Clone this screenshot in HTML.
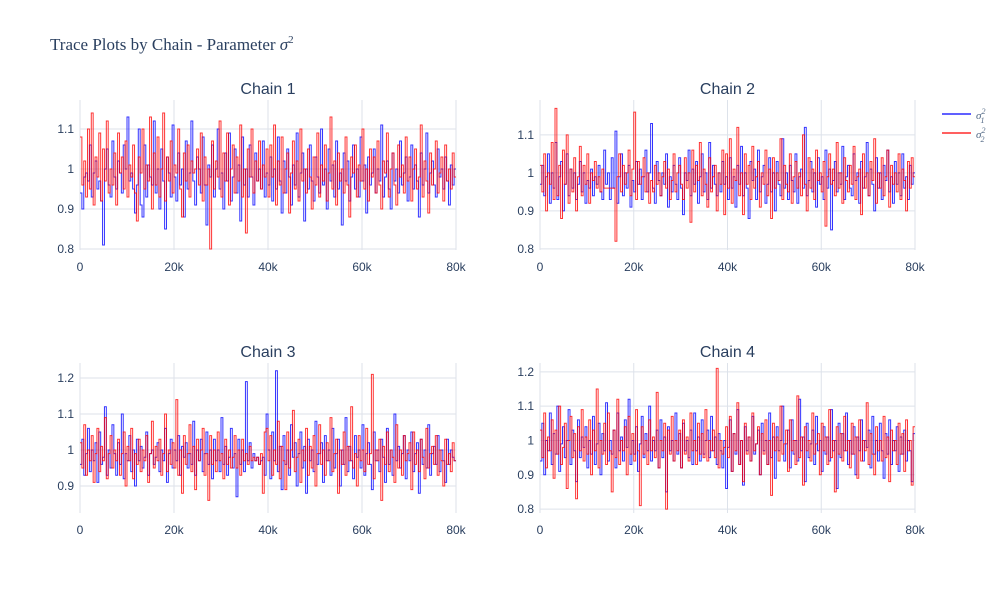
<!DOCTYPE html>
<html><head><meta charset="utf-8"><style>
body{margin:0;background:#fff;}
svg{display:block;font-family:"Liberation Sans",sans-serif;}
</style></head><body>
<svg id="chart" width="1000" height="600">
<text x="50" y="50" font-family="Liberation Serif,serif" font-size="17" fill="#2a3f5f">Trace Plots by Chain - Parameter <tspan font-style="italic">σ</tspan><tspan font-size="11" dy="-7">2</tspan></text>
<g>
<g><line x1="942" y1="114" x2="971" y2="114" stroke="#0000ff" stroke-width="1.2"/><text x="976" y="119" font-family="Liberation Serif,serif" font-style="italic" font-size="11" fill="#506784">σ<tspan font-size="8" dy="-5">2</tspan><tspan font-size="8" dx="-5" dy="9">1</tspan></text></g>
<g><line x1="942" y1="133" x2="971" y2="133" stroke="#ff0000" stroke-width="1.2"/><text x="976" y="138" font-family="Liberation Serif,serif" font-style="italic" font-size="11" fill="#506784">σ<tspan font-size="8" dy="-5">2</tspan><tspan font-size="8" dx="-5" dy="9">2</tspan></text></g>
</g>
</svg>
<script>
const xTicks=[0,20000,40000,60000,80000];
const xTickLabels=["0","20k","40k","60k","80k"];
const chainTitles=["Chain 1","Chain 2","Chain 3","Chain 4"];
const yTicks1=[0.8,0.9,1,1.1];
const yTicks2=[0.8,0.9,1,1.1];
const yTicks3=[0.9,1,1.1,1.2];
const yTicks4=[0.8,0.9,1,1.1,1.2];
const iterStep=400;
const c1s1=[0.94,0.90,0.98,0.99,0.97,1.06,0.93,0.99,1.02,0.95,0.97,0.92,0.81,1.00,1.05,0.96,0.93,1.07,0.98,0.95,1.02,0.99,0.94,1.06,1.00,1.13,0.97,0.99,0.95,0.89,0.96,1.10,0.91,0.88,1.06,0.93,1.01,0.98,0.96,1.12,0.94,1.00,0.90,1.05,0.97,0.85,1.03,0.99,0.93,1.11,0.98,0.92,1.04,0.96,1.00,0.88,1.07,0.95,0.99,1.12,0.97,0.91,1.03,1.00,0.94,1.08,0.96,0.86,1.01,0.98,1.06,0.93,1.00,1.10,0.95,0.99,0.90,1.04,0.97,1.09,0.92,0.98,1.05,0.94,1.01,0.87,1.08,0.96,1.00,0.93,1.06,0.98,0.91,1.04,0.97,1.00,0.95,1.07,0.93,0.99,
0.96,1.03,0.92,1.00,0.95,1.08,0.97,0.89,1.02,0.94,1.05,0.98,0.91,1.01,0.96,1.09,0.93,0.99,1.04,0.87,1.00,0.95,1.06,0.97,0.92,1.03,0.98,0.94,1.10,0.96,1.00,0.90,1.05,0.97,1.01,0.93,1.07,0.95,0.99,0.86,1.04,0.97,1.02,0.92,0.98,1.06,0.95,1.00,0.93,1.08,0.97,1.01,0.89,1.03,0.96,0.99,1.05,0.94,1.00,0.97,1.11,0.93,0.98,1.02,0.95,0.90,1.04,0.97,1.00,0.94,1.07,0.96,0.99,1.03,0.92,0.98,1.06,0.95,1.01,0.97,0.88,1.04,0.96,1.00,1.09,0.94,0.99,1.02,0.96,0.93,1.05,0.98,1.00,0.95,1.03,0.97,0.91,1.01,0.96,1.00];
const c1s2=[1.08,0.96,1.02,0.93,1.10,0.95,1.14,0.91,1.03,0.98,1.09,0.92,1.05,0.97,1.12,0.94,1.00,0.96,1.04,0.91,1.09,0.99,1.03,0.95,1.07,0.93,1.01,0.98,1.06,0.94,0.87,1.03,0.99,1.10,0.95,1.01,0.97,1.13,0.90,1.04,0.96,1.08,0.93,1.00,1.14,0.92,1.03,0.97,1.07,0.94,1.01,0.99,1.10,0.95,0.88,1.04,0.97,1.06,0.93,1.02,0.99,1.00,1.05,0.96,1.09,0.92,1.03,0.96,1.00,0.80,1.07,0.95,1.02,0.98,1.12,0.93,1.04,0.97,1.09,0.91,1.00,1.06,0.94,1.03,0.97,1.11,0.93,1.00,0.84,1.05,0.98,1.10,0.94,1.02,0.97,1.07,0.95,1.01,0.98,1.05,
0.93,1.06,0.98,1.11,0.91,1.02,0.96,1.08,0.94,1.00,1.04,0.89,0.99,1.07,0.95,1.02,0.92,1.10,0.97,1.00,0.94,1.05,0.98,0.90,1.03,0.96,1.09,0.93,1.01,0.97,1.06,0.92,0.99,1.13,0.95,1.02,0.91,1.04,0.97,1.00,0.94,1.08,0.96,0.88,1.03,0.99,1.06,0.93,1.01,0.97,1.10,0.95,1.00,0.92,1.05,0.98,1.03,0.94,1.07,0.96,0.90,1.02,0.99,1.09,0.93,1.00,1.04,0.96,0.91,1.06,0.98,1.01,0.94,1.08,0.97,1.03,0.92,1.00,1.05,0.95,0.98,1.11,0.93,1.02,0.97,0.89,1.04,0.96,1.00,1.07,0.94,0.99,1.03,0.92,1.06,0.97,1.00,0.95,1.04,0.98];
const c2s1=[0.97,1.02,0.94,0.99,1.05,0.92,1.00,0.96,1.08,0.93,0.99,1.03,0.90,0.97,1.05,0.94,1.01,0.96,1.00,0.93,0.97,1.03,0.95,1.00,0.92,0.98,0.96,1.01,0.94,0.99,0.97,1.02,0.95,0.93,1.06,0.97,1.00,0.93,1.04,0.96,1.11,0.92,0.99,1.05,0.94,1.00,0.96,1.02,0.91,0.98,0.95,1.03,0.97,1.01,0.93,0.99,1.06,0.95,1.00,1.13,0.96,0.92,1.03,0.98,0.94,1.00,0.97,1.05,0.91,0.99,0.95,1.02,0.97,0.93,1.04,0.96,0.89,1.00,0.98,1.06,0.94,1.01,0.97,1.03,0.92,0.99,1.05,0.95,1.00,0.93,1.08,0.96,1.02,0.97,0.94,1.00,0.95,1.03,0.97,0.99,
0.93,1.04,0.96,0.99,0.91,1.02,0.97,1.07,0.94,1.00,0.96,0.88,1.03,0.98,1.01,0.93,1.06,0.95,0.99,1.02,0.92,0.97,1.04,0.95,1.00,0.90,1.03,0.97,0.94,1.09,0.96,1.00,0.93,1.02,0.98,0.95,1.05,0.92,0.99,1.01,0.96,1.12,0.94,0.98,1.03,0.95,1.00,0.91,1.04,0.97,0.99,0.93,1.06,0.96,1.01,0.85,0.98,1.03,0.95,1.00,0.97,1.07,0.93,0.99,1.02,0.96,0.94,1.05,0.98,1.00,0.92,1.03,0.96,0.99,1.08,0.94,1.01,0.97,0.90,1.04,0.96,1.00,0.93,1.02,0.98,1.06,0.95,0.99,0.92,1.03,0.97,1.00,0.94,1.05,0.96,0.99,0.93,1.02,0.97,1.00];
const c2s2=[1.02,0.95,1.05,0.90,1.00,0.97,1.08,0.93,1.17,0.94,1.02,0.88,1.06,0.97,1.10,0.92,1.01,0.95,1.04,0.90,0.99,1.07,0.94,1.02,0.97,1.05,0.92,1.00,0.98,1.03,0.96,0.99,0.95,1.01,0.96,0.96,0.96,0.96,0.96,0.96,0.82,0.99,1.05,0.95,1.02,0.97,1.00,1.06,0.94,1.01,1.16,0.93,1.03,0.97,0.99,1.04,0.95,1.00,0.92,0.98,0.95,1.02,0.97,1.00,0.94,0.99,1.03,0.96,1.01,0.93,0.98,1.05,0.95,1.00,1.02,0.97,0.93,1.04,0.96,1.00,0.87,1.06,0.95,1.02,0.98,1.08,0.94,1.01,0.97,0.91,1.04,0.95,0.99,1.02,0.90,1.00,0.97,1.06,0.89,1.05,
0.96,1.09,0.92,1.01,0.98,1.12,0.94,1.00,0.89,1.05,0.97,1.02,0.93,1.07,0.96,0.99,1.03,0.91,1.00,0.97,1.06,0.94,1.01,0.88,1.04,0.96,1.00,0.98,1.09,0.93,1.02,0.97,0.95,1.05,0.92,0.99,1.03,0.96,1.00,0.94,1.10,0.97,0.90,1.04,0.96,1.01,0.93,1.06,0.98,1.00,0.95,1.03,0.86,0.99,1.05,0.97,1.01,0.94,1.08,0.96,1.00,0.92,1.04,0.98,0.95,1.02,0.97,1.07,0.93,0.99,1.01,0.89,1.05,0.96,1.00,0.94,1.03,0.98,1.09,0.92,1.00,0.96,1.04,0.94,0.99,1.06,0.91,1.02,0.97,1.00,0.95,1.05,0.93,1.01,0.98,0.90,1.03,0.96,1.04,0.99];
const c3s1=[0.96,1.03,0.93,0.99,1.06,0.94,1.00,0.97,1.02,0.91,1.05,0.96,0.98,1.12,0.93,1.00,0.95,1.07,0.99,0.93,1.02,0.96,1.10,0.92,0.99,0.97,1.04,0.94,1.00,0.90,1.03,0.97,1.01,0.95,0.98,1.05,0.93,0.99,1.00,0.96,0.98,1.02,0.94,1.00,0.97,1.06,0.91,0.99,1.03,0.95,1.00,0.97,1.04,0.93,1.01,0.98,1.02,0.95,0.99,0.96,1.08,0.93,1.00,0.97,1.03,0.94,0.99,1.05,0.96,1.00,0.92,1.03,0.97,1.00,0.94,1.09,0.96,1.01,0.93,0.98,1.06,0.95,0.99,0.87,1.03,0.96,1.00,0.94,1.19,0.97,1.02,0.95,0.99,0.97,0.98,0.96,0.97,0.98,0.93,1.10,
1.00,0.92,1.05,0.97,1.22,0.94,1.01,0.89,1.04,0.96,1.00,0.93,1.07,0.98,1.02,0.90,0.99,1.05,0.95,1.01,0.88,1.03,0.97,1.00,0.94,1.08,0.96,0.99,1.02,0.91,1.04,0.97,1.00,0.93,1.06,0.95,0.99,1.03,0.90,1.00,0.96,1.09,0.94,1.01,0.97,0.92,1.04,0.98,1.00,0.95,1.07,0.93,0.99,1.02,0.96,0.89,1.05,0.97,1.00,0.94,1.03,0.98,0.91,1.06,0.96,1.00,0.93,1.10,0.97,1.01,0.95,0.99,1.04,0.92,1.00,0.97,1.05,0.94,0.99,1.02,0.88,1.03,0.96,1.00,0.95,1.07,0.93,0.99,1.01,0.96,1.04,0.94,1.00,0.97,0.91,1.03,0.96,1.00,0.98,0.97];
const c3s2=[1.02,0.95,1.07,0.93,1.00,0.97,1.04,0.91,0.99,1.06,0.94,1.01,0.97,1.09,0.92,0.99,1.04,0.95,1.00,0.97,1.03,0.93,0.99,1.05,0.90,1.01,0.97,1.06,0.92,0.99,0.96,1.03,0.94,1.00,0.97,1.04,0.91,0.99,1.08,0.95,1.01,0.97,1.03,0.93,0.99,1.10,0.94,1.00,0.96,1.02,0.95,1.14,0.93,1.00,0.88,1.04,0.96,0.99,1.07,0.94,1.01,0.89,1.03,0.97,1.00,1.06,0.93,0.99,0.86,1.04,0.96,1.00,0.94,1.05,0.97,0.99,0.92,1.03,0.96,1.00,0.95,0.98,1.04,0.95,1.00,0.93,1.03,0.97,0.99,0.96,1.01,0.97,0.98,0.97,0.98,0.96,0.99,0.88,1.05,1.06,
0.97,1.04,0.93,1.00,0.96,1.08,0.92,1.01,0.97,0.89,1.05,0.95,1.00,1.11,0.94,0.98,1.03,0.91,1.00,0.97,1.06,0.93,1.01,0.95,1.04,0.90,0.99,1.07,0.96,1.00,0.93,1.02,0.97,1.09,0.94,0.99,1.03,0.88,1.00,0.96,1.05,0.93,1.01,0.97,1.12,0.95,0.99,0.90,1.04,0.97,1.00,0.94,1.06,0.96,0.99,1.21,0.92,1.00,0.97,1.03,0.86,1.01,0.96,1.05,0.94,1.00,0.98,0.91,1.07,0.95,1.00,0.93,1.04,0.97,0.99,1.02,0.89,1.05,0.96,1.00,0.94,1.03,0.98,0.92,1.06,0.95,0.99,1.01,0.96,1.04,0.93,1.00,0.97,0.90,1.03,0.96,0.99,0.94,1.02,0.97];
const c4s1=[0.94,1.05,0.90,1.00,0.97,1.08,0.93,1.02,0.96,1.10,0.91,0.99,1.04,0.95,1.00,1.09,0.93,1.03,0.97,0.88,1.06,0.95,1.01,0.98,1.04,0.92,1.00,0.96,1.07,0.93,0.99,1.05,0.90,1.02,0.97,1.11,0.94,1.00,0.96,1.03,0.92,1.08,0.97,1.01,0.94,1.06,0.98,1.12,0.93,1.00,0.96,1.04,0.91,0.99,1.07,0.95,1.02,0.97,1.10,0.94,1.00,0.97,1.03,0.92,1.06,0.95,1.01,0.85,1.04,0.97,1.00,0.94,1.08,0.96,1.02,0.92,1.05,0.97,1.00,0.95,1.03,0.93,1.08,0.97,1.01,0.94,1.06,0.96,1.00,1.03,0.95,1.07,0.97,1.01,0.93,1.02,0.97,0.92,1.00,0.86,
0.98,1.06,0.91,1.02,0.96,1.09,0.93,1.00,0.87,1.04,0.97,1.01,0.94,1.07,0.96,0.99,1.03,0.90,1.05,0.97,1.00,0.93,1.08,0.95,1.01,0.89,1.04,0.97,1.00,1.10,0.94,0.99,1.03,0.92,1.06,0.96,1.00,0.94,1.12,0.97,1.01,0.88,1.05,0.95,0.99,1.03,0.93,1.07,0.97,1.00,0.91,1.04,0.96,1.01,0.94,1.09,0.97,1.00,0.86,1.05,0.95,1.02,0.97,1.08,0.93,1.00,0.96,1.04,0.90,1.01,0.97,1.06,0.94,1.00,0.98,1.03,0.92,1.07,0.96,1.00,0.94,1.05,0.97,0.89,1.02,0.96,1.06,0.93,1.00,0.97,1.04,0.91,1.01,0.96,1.03,0.94,1.00,0.97,0.88,1.02];
const c4s2=[1.03,0.95,1.08,0.92,1.01,0.97,1.06,0.89,1.03,0.96,1.10,0.93,0.98,1.05,0.86,1.00,1.07,0.95,1.02,0.83,1.04,0.97,1.09,0.94,1.01,0.96,1.06,0.90,1.03,0.97,1.15,0.92,1.00,0.96,1.05,0.93,1.08,0.97,0.85,1.03,0.95,1.12,0.93,1.00,0.97,1.04,0.90,1.07,0.96,1.02,0.94,1.09,0.97,0.81,1.04,0.96,1.00,0.93,1.06,0.97,1.01,0.95,1.14,0.92,1.00,0.97,1.05,0.80,1.03,0.96,1.07,0.94,1.00,0.97,1.03,0.92,1.06,0.96,1.01,0.94,1.08,0.97,1.00,0.93,1.05,0.96,1.02,0.95,1.09,0.94,1.00,0.97,1.03,0.95,1.21,0.92,1.00,0.96,0.98,1.04,
0.95,1.07,0.91,1.02,0.97,1.11,0.93,1.00,0.88,1.05,0.96,1.01,0.94,1.08,0.97,0.99,1.04,0.90,1.02,0.96,1.06,0.93,1.00,0.84,1.05,0.97,1.01,0.94,1.10,0.96,0.99,1.03,0.91,1.06,0.97,1.00,0.93,1.13,0.95,1.01,0.87,1.04,0.97,1.00,0.94,1.08,0.96,0.99,1.02,0.90,1.05,0.97,1.01,0.93,1.09,0.95,1.00,0.85,1.04,0.96,1.02,0.94,1.07,0.97,1.00,0.92,1.05,0.96,1.01,0.89,1.06,0.94,1.00,0.97,1.11,0.93,1.02,0.96,0.90,1.04,0.97,1.00,0.94,1.07,0.95,1.01,0.88,1.03,0.97,1.00,0.93,1.05,0.96,1.02,0.91,1.06,0.97,1.00,0.87,1.04];
const panels=[
 {title:chainTitles[0],x0:80,x1:456,y0:100,y1:250,lo:0.7975,hi:1.1725,ticks:yTicks1,s1:c1s1,s2:c1s2},
 {title:chainTitles[1],x0:540,x1:915,y0:100,y1:250,lo:0.797,hi:1.192,ticks:yTicks2,s1:c2s1,s2:c2s2},
 {title:chainTitles[2],x0:80,x1:456,y0:363,y1:513,lo:0.825,hi:1.2417,ticks:yTicks3,s1:c3s1,s2:c3s2},
 {title:chainTitles[3],x0:540,x1:915,y0:363,y1:513,lo:0.7886,hi:1.2257,ticks:yTicks4,s1:c4s1,s2:c4s2}
];
const NS="http://www.w3.org/2000/svg";
const svg=document.getElementById('chart');
function mk(t,a,p){const e=document.createElementNS(NS,t);for(const k in a)e.setAttribute(k,a[k]);(p||svg).appendChild(e);return e;}
panels.forEach((p,pi)=>{
 const g=mk('g',{});
 
 
 const xs=v=>p.x0+(v/80000)*(p.x1-p.x0);
 const ys=v=>p.y1-(v-p.lo)/(p.hi-p.lo)*(p.y1-p.y0);
 p.ticks.forEach(t=>{
  mk('line',{x1:p.x0,x2:p.x1,y1:ys(t),y2:ys(t),stroke:'#dde2ea','stroke-width':1},g);
  const tx=mk('text',{x:p.x0-6,y:ys(t)+4,'text-anchor':'end','font-size':12,fill:'#2a3f5f'},g);
  
  
  tx.textContent=String(t);
 });
 xTicks.forEach((t,i)=>{
  mk('line',{x1:xs(t),x2:xs(t),y1:p.y0,y2:p.y1,stroke:'#dde2ea','stroke-width':1},g);
  const tx=mk('text',{x:xs(t),y:p.y1+21,'text-anchor':'middle','font-size':12,fill:'#2a3f5f'},g);
  
  
  tx.textContent=xTickLabels[i];
 });
 [[p.s1,'#0000ff','sigma1'],[p.s2,'#ff0000','sigma2']].forEach(([arr,col,nm])=>{
  const step=80000/arr.length;
  let d='';
  arr.forEach((v,i)=>{const x=xs(i*step),y=ys(v);
   if(i===0)d='M'+x+','+y;else d+='H'+x+'V'+y;});
  d+='H'+xs(80000);
  const path=mk('path',{d:d,fill:'none',stroke:col,'stroke-width':1,'stroke-opacity':0.8},g);
  
  
 });
 const tt=mk('text',{x:(p.x0+p.x1)/2,y:p.y0-6,'text-anchor':'middle','font-size':16,fill:'#2a3f5f'},g);
 
 
 tt.textContent=p.title;
});
</script>
</body></html>
